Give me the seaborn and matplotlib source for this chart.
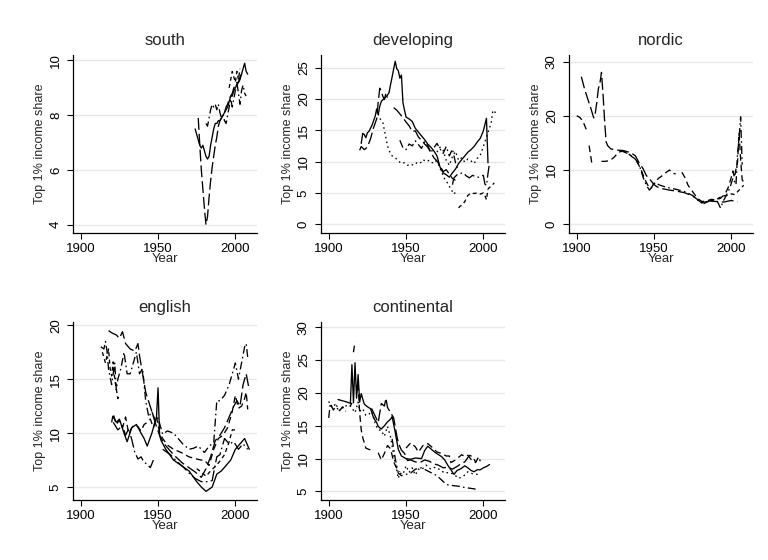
import matplotlib
matplotlib.use("Agg")
import matplotlib.pyplot as plt
import seaborn as sns
import pandas as pd

# ---------------- data: top 1% income share by country group ----------------
# None marks a break in a series (missing years)

# south
south_a_year = [1974,1975,1976,1977,1978,1979,1980,1981,1982,1983,1984,1985,1986,1987,1988,1989,1990,1991,1992,1993,1994,1995,1996,1997,1998,1999,2000,2001,2002,2003,2004,2005,2006,2007,2008]
south_a_share = [7.5,7.3,7.1,6.9,6.8,6.9,6.7,6.5,6.4,6.5,6.9,7.2,7.5,7.7,7.7,7.8,7.8,7.9,8.0,8.1,8.2,8.3,8.5,8.7,8.7,8.9,9.0,9.1,9.2,9.3,9.5,9.7,9.9,9.6,9.5]
south_b_year = [1976,1977,1978,1979,1980,1981,1982,1983,1984,1985,1986,1987,1988,1989,1990,1991,1992,1993,1994,1995,1996,1997,1998,1999,2000,2001,2002,2003,2004,2005]
south_b_share = [7.9,6.9,6.0,5.3,4.6,4.0,4.3,5.0,5.6,6.1,6.5,6.9,7.2,7.6,7.8,7.9,8.0,8.1,8.3,8.4,8.6,8.7,8.8,9.0,9.1,9.2,9.2,9.4,9.5,9.6]
south_c_year = [1981,1982,1983,1984,1985,1986,1987,1988,1989,1990,1991,1992,1993,1994,1995,1996,1997,1998,1999,2000,2001,2002,2003,2004,2005,2006,2007]
south_c_share = [7.7,7.6,7.9,8.2,8.4,8.3,8.4,8.2,8.4,8.1,7.9,8.0,7.8,7.7,8.0,8.3,8.6,8.3,8.6,8.9,9.2,8.8,8.4,8.9,9.1,8.8,8.7]
south_d_year = [1996,1997,1998,1999,2000,2001,2002,2003]
south_d_share = [9.0,9.3,9.6,9.4,9.2,9.6,9.3,9.7]

# developing
dev_a_year = [1921,1922,1923,1924,1925,1926,1928,1930,1931,1932,1933,1934,1936,1938,1939,1940,1941,1942,1943,1944,1945,1946,1947,1948,1949,1950,1952,1954,1956,1958,1960,1962,1964,1966,1968,1970,1972,1974,1976,1978,1980,1982,1984,1986,1988,1990,1992,1994,1996,1998,2000,2001,2002,2003]
dev_a_share = [12.9,14.5,14.3,13.8,14.6,14.8,15.8,17.2,18.4,17.5,18.8,19.6,20.1,20.6,21.0,22.3,23.5,24.8,26.0,24.8,24.5,23.3,23.8,19.4,18.2,17.1,16.8,16.4,15.3,14.7,14.1,13.5,12.8,12.3,11.7,10.9,9.1,8.2,7.9,7.5,8.2,8.8,9.7,10.3,10.9,11.5,11.9,12.4,13.1,13.7,14.9,15.9,16.9,9.8]
dev_b_year = [1920,1921,1923,1925,1927,1929,1931,1932,1933,1934,1935,1936,1937,1938,1939,1942,1944,1946,1948,1950,1952,1954,1956,1958,1960,1962,1964,1966,1968,1970,1972,1974,1976,1978,1980,1982]
dev_b_share = [11.8,12.4,11.9,12.3,13.6,15.4,16.8,19.5,21.7,21.2,20.4,19.9,20.9,20.2,None,18.6,18.2,17.6,17.0,16.3,15.7,14.8,14.9,13.9,13.4,12.8,12.3,11.5,10.6,10.1,9.3,8.4,8.7,8.0,7.3,7.0]
dev_c_year = [1932,1933,1935,1936,1937,1938,1939,1940,1941,1943,1945,1947,1949,1951,1953,1955,1957,1959,1961,1963,1965,1967,1969,1971,1973,1975,1977,1979,1981,1983]
dev_c_share = [17.6,16.9,16.2,15.0,13.8,12.5,11.8,11.3,10.9,10.6,10.1,9.7,9.8,9.4,9.6,9.4,9.8,9.7,10.3,10.0,10.2,9.8,10.2,9.5,8.3,7.2,6.5,5.6,4.8,5.5]
dev_d_year = [1946,1948,1950,1952,1954,1956,1958,1960,1962,1964,1966,1968,1970,1972,1974,1976,1978,1980,1982,1984]
dev_d_share = [13.4,12.2,11.9,12.8,12.5,13.3,12.7,12.1,13.2,12.6,11.4,12.2,12.9,12.0,11.3,12.4,10.9,12.0,9.8,8.5]
dev_e_year = [1984,1985,1986,1988,1989,1990,1992,1994,1996,1998,2000,2001,2002,2003,2004,2005,2006,2007]
dev_e_share = [2.6,2.9,3.0,3.6,4.2,4.6,5.0,4.9,5.0,4.8,5.0,4.6,3.9,5.6,5.9,6.0,6.3,6.6]
dev_f_year = [1980,1981,1983,1985,1987,1989,1991,1993,1995,1997,1999,2000,2001,2002,2003,2004]
dev_f_share = [6.3,7.4,7.9,8.1,8.2,7.7,7.4,7.8,7.6,7.5,7.7,7.8,6.4,6.2,8.1,9.8]
dev_g_year = [1970,1972,1974,1976,1978,1980,1982,1984,1986,1988,1990,1992,1994,1996,1998,2000,2002,2004,2005,2006,2007,2008]
dev_g_share = [11.5,12.3,11.8,10.2,9.4,10.8,11.6,10.2,10.6,9.9,10.4,10.1,9.7,10.5,11.0,12.4,13.9,15.4,16.1,17.9,18.2,17.6]

# nordic
nord_a_year = [1903,1905,1907,1909,1911,1912,1913,1914,1915,1916,1917,1918,1919,1920,1922,1925,1930,1935,1938,1940,1943,1945,1947,1950,1952,1955,1960,1965,1970,1975,1978,1981,1983,1986,1990,1995,2000,2004]
nord_a_share = [27.2,25.0,23.2,21.5,19.6,20.5,22.5,25.0,26.0,28.0,24.0,19.2,15.2,14.5,13.9,13.7,13.6,13.2,12.6,11.5,10.2,9.0,8.4,7.3,6.9,6.6,6.3,6.1,5.8,5.2,4.6,3.9,4.0,4.3,4.2,4.1,4.4,4.1]
nord_b_year = [1900,1902,1904,1906,1907,None,1908,1910,None,1916,1918,1921,1924,1927,1930,1933,1936,1938,1940,1942,1944,1946,1948,1950,1953,1956,1958,1960,1962,1964,None,1968,1970,1972,1975,1978,1981,1984,1987,1990,1993,1996,1998,2000,2001,2002,2003,2004,2005,2006,2007,2008]
nord_b_share = [20.0,19.7,19.0,17.6,17.0,None,14.5,10.8,None,11.6,11.6,11.7,12.3,13.3,13.5,13.1,12.4,12.0,11.0,9.8,8.3,7.2,6.6,7.6,8.5,9.1,9.6,10.0,9.4,9.3,None,9.6,8.6,7.2,6.0,4.8,4.2,4.3,4.6,4.5,4.8,5.6,6.8,8.7,9.8,8.6,10.2,11.5,16.8,12.0,8.2,7.8]
nord_c_year = [1928,1931,1934,1937,1939,1941,1943,1945,1947,1949,1951,1953,1956,1960,1965,1970,1975,1980,1983,1986,1989,1991,1993,1995,1997,1999,2001,2003,2004,2005,2006,2007]
nord_c_share = [13.6,13.3,12.9,12.3,11.6,10.4,8.6,7.2,6.3,7.0,7.7,7.3,7.0,6.7,6.4,6.0,5.3,4.0,4.1,4.3,4.5,4.2,3.0,4.4,5.5,6.7,8.5,7.3,13.0,15.8,19.8,11.0]
nord_d_year = [1982,1985,1988,1991,1994,1997,2000,2002,2004,2006,2008]
nord_d_share = [3.8,4.2,4.5,4.7,5.2,5.3,5.6,5.5,6.0,6.6,7.2]

# english
eng_a_year = [1918,1920,1923,1925,1927,1929,1932,1935,1937,1938,1940,1942,1944,1946,1949,1951,1954,1957,1960,1963,1966,1970,1974,1978,1981,1984,1987,1990,1993,1996,1999,2001,2003,2005,2007,2009]
eng_a_share = [19.5,19.3,19.1,18.8,19.4,18.3,17.8,17.6,18.3,17.2,15.5,13.8,12.9,12.0,10.6,9.8,9.0,8.5,8.0,7.6,7.2,6.8,6.4,5.9,6.7,7.8,9.3,9.8,10.5,11.5,12.5,13.0,12.5,14.5,15.5,14.0]
eng_b_year = [1913,1915,1916,1917,1918,1920,1921,1922,1923,1924,1926,1928,1929,1930,1932,1934,1936,1937,1938,1940,1942,1944,1946,1948,1950,1953,1956,1960,1963,1966,1970,1973,1976,1980,1983,1986,1988,1990,1993,1996,1998,2000,2002,2004,2006,2007,2008]
eng_b_share = [18.0,17.8,18.5,17.6,15.9,14.5,15.5,16.5,14.0,15.0,16.0,17.5,16.5,15.5,15.5,16.5,17.5,16.5,15.5,16.0,13.0,11.5,12.0,11.2,11.4,9.9,10.2,10.0,9.5,9.0,8.5,8.6,8.8,8.2,8.8,9.1,13.0,13.0,13.5,14.5,15.5,16.5,15.0,16.5,18.0,18.3,17.0]
eng_c_year = [1920,1921,1923,1925,1927,1929,1931,1933,1935,1937,1939,1941,1943,1945,1947,1949,1951,1953,1956,1960,1965,1970,1975,1978,1980,1983,1986,1989,1992,1995,1998,2000,2002,2004,2006,2007,2008]
eng_c_share = [11.0,11.8,10.8,11.2,10.5,11.5,10.0,10.5,10.8,10.6,10.2,10.8,11.0,11.3,10.5,11.5,10.0,9.5,8.9,8.5,8.2,7.8,7.6,7.5,7.5,7.0,8.5,9.5,9.8,10.5,12.0,13.5,12.3,12.5,13.2,13.8,12.2]
eng_d_year = [1921,1923,1925,1928,1930,1933,1936,1939,1941,1943,1946,1948,1949,1950,1951,1952,1955,1960,1965,1970,1975,1978,1981,1983,1985,1988,1991,1994,1997,2000,2003,2006,2009]
eng_d_share = [11.5,11.0,11.3,10.0,9.2,10.5,10.8,10.0,9.5,8.8,10.0,11.0,11.5,14.2,9.8,9.3,8.5,7.5,7.0,6.5,5.5,5.0,4.6,4.8,5.0,6.2,6.5,7.0,7.5,8.5,9.0,9.5,8.5]
eng_e_year = [1921,1924,1927,1929,1931,1933,1935,1937,1939,1941,1943,1945,1947,None,1953,1958,1962,1966,1970,1974,1978,1982,1985,1988,1990,1993,1996,1999,2002,2005,2008]
eng_e_share = [11.0,10.3,10.7,9.8,10.4,9.4,8.2,7.6,7.8,7.3,7.1,6.8,7.5,None,8.5,8.0,7.4,6.9,6.3,5.8,5.5,5.5,5.6,7.8,8.0,9.5,9.0,9.2,8.5,9.0,8.5]
eng_f_year = [1914,1916,1918,1919,1920,1921,1922,1923,1924,1925,None,1975,1978,1981,1984,1987,1990,1993,1996,1998,2000]
eng_f_share = [17.5,16.5,17.8,16.0,15.3,16.6,15.0,14.1,13.2,13.5,None,6.7,6.4,6.0,6.5,6.9,7.4,8.0,9.2,10.3,10.3]

# continental
con_a_year = [1900,1902,1904,1906,1908,1910,1913,1915,1917,1919,1920,1922,1924,1926,1928,1930,1932,1934,1936,1938,1940,1942,1944,1945,1946,1948,1950,1952,1954,1956,1958,1960,1963,1966,1969,1972,1975,1978,1981,1984,1987,1990,1993,1996,1998]
con_a_share = [18.7,17.8,18.2,17.5,17.6,17.9,18.2,17.7,17.0,18.6,17.2,17.6,16.6,16.7,17.6,15.3,14.4,14.3,13.4,14.9,13.3,10.5,8.2,7.0,7.8,7.6,8.9,7.9,8.6,7.5,8.4,8.3,9.0,8.4,8.7,8.3,7.8,7.9,7.6,7.0,7.3,8.0,7.7,7.6,7.8]
con_b_year = [1906,1909,1912,1914,1915,1916,1917,1918,1919,1920,1921,1923,1925,1927,1929,1931,1932,1934,1936,1938,1940,1941,1943,1945,1947,1950,1953,1956,1960,1962,1964,1966,1969,1971,1973,1975,1977,1979,1981,1983,1985,1988,1990,1992,1994,1996,1998,2000,2002,2004]
con_b_share = [19.0,18.8,18.6,18.4,24.3,18.5,24.6,19.2,22.8,18.6,19.9,18.3,17.9,17.6,16.2,15.5,14.9,14.5,15.0,15.6,16.0,16.4,14.0,11.4,10.4,10.0,9.9,10.1,10.0,11.2,11.9,11.5,10.9,10.6,10.3,9.8,9.0,8.3,7.6,8.2,8.4,8.9,8.6,8.2,8.0,8.3,8.3,8.6,8.8,9.1]
con_c_year = [1914,1915,None,1916,1917,None,1918,1919,1920,1921,1922,1924,1926,1928,None,1932,1934,1936,1938,1940,1942,1944,1946,None,1950,1953,1956,1958,1961,1964,1967,1970,1973,1976,1978,1979,1982,1984,1986,1988,1990,1992,1995,1997,1998]
con_c_share = [18.0,18.5,None,26.2,27.8,None,20.0,21.5,17.0,14.4,13.2,11.6,11.4,11.3,None,10.9,9.8,10.8,12.0,11.5,9.5,8.5,8.0,None,11.6,12.4,11.8,11.0,12.0,12.3,11.7,11.0,10.8,10.4,10.4,9.4,9.8,10.2,10.6,10.3,10.5,9.9,9.4,10.3,9.6]
con_d_year = [1928,1930,1932,1934,1936,1937,1938,1940,1942,1944,1945,1947,1949,1951,1953,1956,1959,1962,1965,1968,1971,1974,1977,1980,1983,1986,1988,1991,1993,1995]
con_d_share = [17.5,16.5,15.5,18.4,18.0,19.2,17.8,17.0,16.2,13.5,12.4,11.3,10.8,9.7,9.8,9.5,9.4,9.8,9.6,9.2,9.0,8.6,8.7,8.4,8.8,9.3,9.5,10.5,10.3,9.5]
con_e_year = [1900,1901,1903,1905,1907,1909,1911,None,1941,1943,1945,1947,1950,1953,1956,1960,1965,1970,1975,1977,1980,1984,1988,1991,1994,1997]
con_e_share = [16.2,18.4,17.4,18.1,17.3,17.9,17.2,None,13.0,10.0,7.8,7.4,7.6,7.8,8.4,8.6,8.0,7.4,6.3,6.0,5.9,5.8,5.6,5.5,5.4,5.2]

# ---------------- styling ----------------
DASHES = {
    "solid": "",
    "dash": (5, 3),
    "longdash": (9, 3),
    "dot": (1.2, 2.5),
    "dashdot": (6, 2.5, 1.2, 2.5),
    "shortdash": (3, 2.5),
    "longdashdot": (9, 2.5, 1.2, 2.5),
}

panels = [
    ("south", [("a", south_a_year, south_a_share, "solid"),
               ("b", south_b_year, south_b_share, "longdash"),
               ("c", south_c_year, south_c_share, "dashdot"),
               ("d", south_d_year, south_d_share, "shortdash")],
     (3.7, 10.2), [4, 6, 8, 10]),
    ("developing", [("a", dev_a_year, dev_a_share, "solid"),
                    ("b", dev_b_year, dev_b_share, "longdash"),
                    ("c", dev_c_year, dev_c_share, "dot"),
                    ("d", dev_d_year, dev_d_share, "dashdot"),
                    ("e", dev_e_year, dev_e_share, "shortdash"),
                    ("f", dev_f_year, dev_f_share, "longdashdot"),
                    ("g", dev_g_year, dev_g_share, "dot")],
     (-1.4, 27.0), [0, 5, 10, 15, 20, 25]),
    ("nordic", [("a", nord_a_year, nord_a_share, "longdash"),
                ("b", nord_b_year, nord_b_share, "dash"),
                ("c", nord_c_year, nord_c_share, "dashdot"),
                ("d", nord_d_year, nord_d_share, "shortdash")],
     (-1.6, 31.2), [0, 10, 20, 30]),
    ("english", [("a", eng_a_year, eng_a_share, "longdash"),
                 ("b", eng_b_year, eng_b_share, "dashdot"),
                 ("c", eng_c_year, eng_c_share, "dash"),
                 ("d", eng_d_year, eng_d_share, "solid"),
                 ("e", eng_e_year, eng_e_share, "longdashdot"),
                 ("f", eng_f_year, eng_f_share, "shortdash")],
     (3.8, 20.3), [5, 10, 15, 20]),
    ("continental", [("a", con_a_year, con_a_share, "dot"),
                     ("b", con_b_year, con_b_share, "solid"),
                     ("c", con_c_year, con_c_share, "dash"),
                     ("d", con_d_year, con_d_share, "longdash"),
                     ("e", con_e_year, con_e_share, "dashdot")],
     (3.7, 30.8), [5, 10, 15, 20, 25, 30]),
]


def to_frame(series):
    rows = []
    seg = 0
    for name, years, shares, _ in series:
        seg += 1
        for yr, v in zip(years, shares):
            if v is None:
                seg += 1
                continue
            rows.append({"country": name, "seg": seg, "Year": yr, "share": v})
    return pd.DataFrame(rows)


sns.set_style("white")
plt.rcParams["font.family"] = ["Liberation Sans", "DejaVu Sans"]

fig = plt.figure(figsize=(7.68, 5.6), dpi=100)
W, H = 768, 560
col_left = [73, 321, 569]
row_top = [55, 322]
ax_w, ax_h = 184, 178

for i, (title, series, ylim, yticks) in enumerate(panels):
    r, c = divmod(i, 3)
    left = col_left[c] / W
    bottom = 1 - (row_top[r] + ax_h) / H
    ax = fig.add_axes([left, bottom, ax_w / W, ax_h / H])

    df = to_frame(series)
    names = [s[0] for s in series]
    sns.lineplot(data=df, x="Year", y="share", hue="country", style="country",
                 units="seg", estimator=None, sort=True,
                 palette={n: "black" for n in names},
                 dashes={s[0]: DASHES[s[3]] for s in series},
                 hue_order=names, style_order=names,
                 linewidth=0.95, legend=False, ax=ax)

    ax.set_xlim(1895, 2014)
    ax.set_xticks([1900, 1950, 2000])
    ax.set_ylim(*ylim)
    ax.set_yticks(yticks)
    ax.yaxis.grid(True, color="#e8e8e8", linewidth=1.0)
    ax.xaxis.grid(False)
    ax.set_axisbelow(True)
    for s in ("top", "right"):
        ax.spines[s].set_visible(False)
    for s in ("left", "bottom"):
        ax.spines[s].set_color("black")
        ax.spines[s].set_linewidth(0.9)
    ax.tick_params(direction="out", length=4, width=0.8, colors="black",
                   labelsize=9.5, left=True, bottom=True)
    ax.tick_params(axis="x", pad=3)
    ax.tick_params(axis="y", labelrotation=90, pad=4)
    for lab in ax.get_yticklabels():
        lab.set_verticalalignment("center")
    ax.set_xlabel("Year", fontsize=9.5, labelpad=-1)
    ax.set_ylabel("Top 1% income share", fontsize=9, labelpad=3)
    ax.set_title(title, fontsize=12, pad=7)

fig.savefig("out.png", dpi=100, facecolor="white")
